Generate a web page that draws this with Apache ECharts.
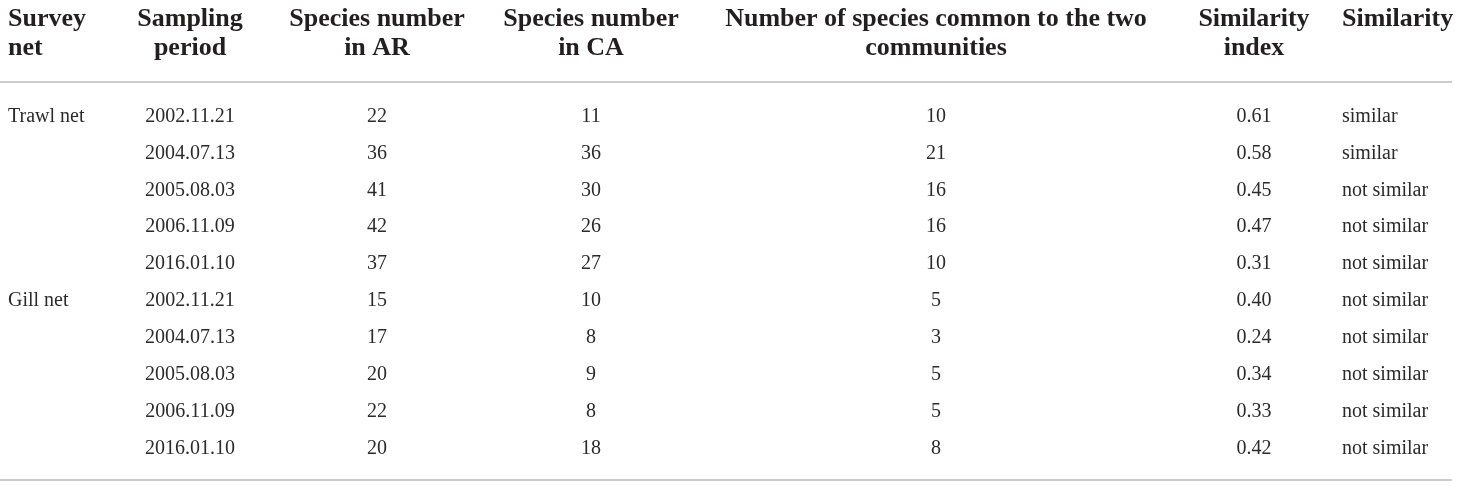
<!DOCTYPE html>
<html>
<head>
<meta charset="utf-8">
<script src="https://cdn.jsdelivr.net/npm/echarts@6/dist/echarts.min.js"></script>
<style>
  html, body { margin: 0; padding: 0; background: #fff; }
  #main { width: 1460px; height: 489px; }
</style>
</head>
<body>
<div id="main"></div>
<script>
// table data
const headers = [
  'Survey\nnet',
  'Sampling\nperiod',
  'Species number\nin AR',
  'Species number\nin CA',
  'Number of species common to the two\ncommunities',
  'Similarity\nindex',
  'Similarity'
];
const surveyNet = ['Trawl net', '', '', '', '', 'Gill net', '', '', '', ''];
const samplingPeriod = ['2002.11.21', '2004.07.13', '2005.08.03', '2006.11.09', '2016.01.10',
  '2002.11.21', '2004.07.13', '2005.08.03', '2006.11.09', '2016.01.10'];
const speciesAR = [22, 36, 41, 42, 37, 15, 17, 20, 22, 20];
const speciesCA = [11, 36, 30, 26, 27, 10, 8, 9, 8, 18];
const commonSpecies = [10, 21, 16, 16, 10, 5, 3, 5, 5, 8];
const similarityIndex = ['0.61', '0.58', '0.45', '0.47', '0.31', '0.40', '0.24', '0.34', '0.33', '0.42'];
const similarity = ['similar', 'similar', 'not similar', 'not similar', 'not similar',
  'not similar', 'not similar', 'not similar', 'not similar', 'not similar'];

// column layout (anchor x in px and alignment)
const colX = [8, 190, 377, 591, 936, 1254, 1342];
const colAlign = ['left', 'center', 'center', 'center', 'center', 'center', 'left'];

const columns = [surveyNet, samplingPeriod, speciesAR, speciesCA, commonSpecies, similarityIndex, similarity];
const rowIds = samplingPeriod.map((d, i) => i);

const cells = [];
columns.forEach((col, c) => {
  col.forEach((v, r) => {
    if (v !== '') cells.push([c, r, String(v)]);
  });
});

const chart = echarts.init(document.getElementById('main'));

const headerGraphics = headers.map((h, i) => ({
  type: 'text',
  x: colX[i],
  y: 5,
  style: {
    text: h,
    align: colAlign[i],
    verticalAlign: 'top',
    fontFamily: '"Liberation Serif", "DejaVu Serif", serif',
    fontWeight: 'bold',
    fontSize: 26,
    lineHeight: 29,
    fill: '#231f20'
  }
}));

const option = {
  animation: false,
  grid: { left: 0, right: 0, top: 98, bottom: 22 },
  xAxis: { type: 'value', min: 0, max: 1460, show: false },
  yAxis: { type: 'category', data: rowIds, inverse: true, show: false },
  graphic: headerGraphics.concat([
    { type: 'line', shape: { x1: 0, y1: 82, x2: 1452, y2: 82 }, style: { stroke: '#cccccc', lineWidth: 2 } },
    { type: 'line', shape: { x1: 0, y1: 480, x2: 1452, y2: 480 }, style: { stroke: '#bbbbbb', lineWidth: 1.5 } }
  ]),
  series: [
    {
      type: 'custom',
      data: cells,
      renderItem: function (params, api) {
        const c = api.value(0);
        const r = api.value(1);
        const p = api.coord([colX[c], r]);
        return {
          type: 'text',
          x: p[0],
          y: p[1],
          style: {
            text: cells[params.dataIndex][2],
            align: colAlign[c],
            verticalAlign: 'middle',
            fontFamily: '"Liberation Serif", "DejaVu Serif", serif',
            fontSize: 20,
            fill: '#2b2b2b'
          }
        };
      }
    }
  ]
};

chart.setOption(option);
</script>
</body>
</html>
